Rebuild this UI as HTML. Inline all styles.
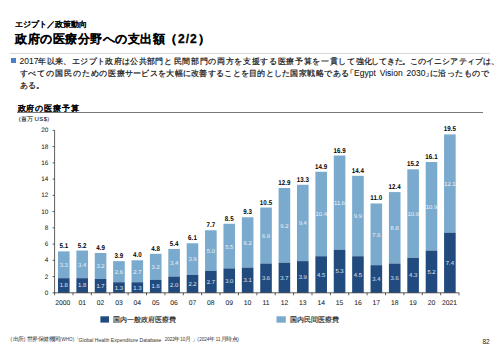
<!DOCTYPE html>
<html><head><meta charset="utf-8"><style>
html,body{margin:0;padding:0;background:#fff;}
body{width:500px;height:353px;position:relative;overflow:hidden;font-family:"Liberation Sans",sans-serif;color:#000;}
.a{position:absolute;white-space:nowrap;line-height:1;}
svg text{font-family:"Liberation Sans",sans-serif;text-anchor:middle;text-rendering:geometricPrecision;}
.vd{font-size:5.9px;fill:#e4eaf2;}
.vl{font-size:5.9px;fill:#f2f6fa;}
.vt{font-size:7px;font-weight:bold;fill:#000;letter-spacing:0.1px;}
.xl{font-size:6.8px;fill:#111;}
.yl{font-size:6.4px;fill:#111;text-anchor:end;}
.body{font-size:8.2px;letter-spacing:0.35px;line-height:11.9px;color:#111;-webkit-text-stroke:0.2px #111;}
.lat{font-size:8.5px;letter-spacing:0;-webkit-text-stroke:0.05px #111;}
</style></head><body>
<div class="a" style="left:15px;top:20.5px;font-size:8px;letter-spacing:0;-webkit-text-stroke:0.45px #000;">エジプト／政策動向</div>
<div class="a" style="left:15px;top:33px;font-size:12px;letter-spacing:0.5px;"><span style="-webkit-text-stroke:0.75px #000">政府の医療分野への支出額</span><b style="letter-spacing:1px;-webkit-text-stroke:0.3px #000">（2/2）</b></div>
<div class="a" style="left:10px;top:52.6px;width:479.5px;height:1px;background:#d9d9d9;"></div>
<div class="a" style="left:10.9px;top:58px;width:5px;height:5px;background:#4a7fcb;"></div>
<div class="a body" style="left:19.5px;top:55.8px;"><span class="lat">2017</span>年以来、エジプト政府は公共部門と<span style="margin-left:1.5px;letter-spacing:0.68px">民間部門の両方を支援する医療予算を一貫して</span><span style="letter-spacing:-0.25px">強化してきた。</span><span style="letter-spacing:0.08px">このイニシアティブは、</span><br><span style="letter-spacing:0.48px"><span style="letter-spacing:0.88px">すべての国民のための</span><span style="letter-spacing:0.28px">医療サービスを大幅に改善することを目的とした</span>国家戦略である<span style="letter-spacing:0;margin-left:-3.8px">「</span><span class="lat" style="word-spacing:1.5px">Egypt Vision 2030</span><span style="letter-spacing:-3.5px">」</span>に沿ったもので</span><br>ある。</div>
<div class="a" style="left:17.6px;top:104.3px;font-size:8.4px;letter-spacing:0.85px;-webkit-text-stroke:0.45px #000;">政府の医療予算</div>
<div class="a" style="left:17px;top:111.8px;width:466px;height:1.4px;background:#777;"></div>
<div class="a" style="left:18.8px;top:116.3px;font-size:6px;color:#222;-webkit-text-stroke:0.1px #222;">(百万</div>
<div class="a" style="left:34.6px;top:116.3px;font-size:6px;letter-spacing:0.35px;color:#222;-webkit-text-stroke:0.1px #222;">US$</div>
<div class="a" style="left:47.3px;top:116.3px;font-size:6px;color:#222;">)</div>
<svg class="a" style="left:0;top:0" width="500" height="353" viewBox="0 0 500 353">
<rect x="57.99" y="251.38" width="11.6" height="26.80" fill="#7aaacd"/>
<rect x="57.99" y="278.18" width="11.6" height="14.62" fill="#214a7f"/>
<text x="63.79" y="287.49" class="vd">1.8</text>
<text x="63.79" y="267.18" class="vl">3.3</text>
<text transform="translate(63.79,248.38) scale(0.88,1)" class="vt">5.1</text>
<text x="62.79" y="304.80" class="xl">2000</text>
<rect x="76.38" y="250.57" width="11.6" height="27.61" fill="#7aaacd"/>
<rect x="76.38" y="278.18" width="11.6" height="14.62" fill="#214a7f"/>
<text x="82.18" y="287.49" class="vd">1.8</text>
<text x="82.18" y="266.77" class="vl">3.4</text>
<text transform="translate(82.18,247.57) scale(0.88,1)" class="vt">5.2</text>
<text x="82.18" y="304.80" class="xl">01</text>
<rect x="94.76" y="253.00" width="11.6" height="25.99" fill="#7aaacd"/>
<rect x="94.76" y="278.99" width="11.6" height="13.81" fill="#214a7f"/>
<text x="100.56" y="287.90" class="vd">1.7</text>
<text x="100.56" y="268.40" class="vl">3.2</text>
<text transform="translate(100.56,250.00) scale(0.88,1)" class="vt">4.9</text>
<text x="100.56" y="304.80" class="xl">02</text>
<rect x="113.15" y="261.12" width="11.6" height="21.12" fill="#7aaacd"/>
<rect x="113.15" y="282.24" width="11.6" height="10.56" fill="#214a7f"/>
<text x="118.95" y="289.52" class="vd">1.3</text>
<text x="118.95" y="274.08" class="vl">2.6</text>
<text transform="translate(118.95,258.12) scale(0.88,1)" class="vt">3.9</text>
<text x="118.95" y="304.80" class="xl">03</text>
<rect x="131.53" y="260.31" width="11.6" height="21.93" fill="#7aaacd"/>
<rect x="131.53" y="282.24" width="11.6" height="10.56" fill="#214a7f"/>
<text x="137.33" y="289.52" class="vd">1.3</text>
<text x="137.33" y="273.68" class="vl">2.7</text>
<text transform="translate(137.33,257.31) scale(0.88,1)" class="vt">4.0</text>
<text x="137.33" y="304.80" class="xl">04</text>
<rect x="149.92" y="253.81" width="11.6" height="25.99" fill="#7aaacd"/>
<rect x="149.92" y="279.80" width="11.6" height="13.00" fill="#214a7f"/>
<text x="155.72" y="288.30" class="vd">1.6</text>
<text x="155.72" y="269.21" class="vl">3.2</text>
<text transform="translate(155.72,250.81) scale(0.88,1)" class="vt">4.8</text>
<text x="155.72" y="304.80" class="xl">05</text>
<rect x="168.30" y="248.94" width="11.6" height="27.61" fill="#7aaacd"/>
<rect x="168.30" y="276.56" width="11.6" height="16.24" fill="#214a7f"/>
<text x="174.10" y="286.68" class="vd">2.0</text>
<text x="174.10" y="265.15" class="vl">3.4</text>
<text transform="translate(174.10,245.94) scale(0.88,1)" class="vt">5.4</text>
<text x="174.10" y="304.80" class="xl">06</text>
<rect x="186.69" y="243.26" width="11.6" height="31.68" fill="#7aaacd"/>
<rect x="186.69" y="274.93" width="11.6" height="17.87" fill="#214a7f"/>
<text x="192.49" y="285.87" class="vd">2.2</text>
<text x="192.49" y="261.49" class="vl">3.9</text>
<text transform="translate(192.49,240.26) scale(0.88,1)" class="vt">6.1</text>
<text x="192.49" y="304.80" class="xl">07</text>
<rect x="205.07" y="230.26" width="11.6" height="40.61" fill="#7aaacd"/>
<rect x="205.07" y="270.87" width="11.6" height="21.93" fill="#214a7f"/>
<text x="210.87" y="283.84" class="vd">2.7</text>
<text x="210.87" y="252.97" class="vl">5.0</text>
<text transform="translate(210.87,227.26) scale(0.88,1)" class="vt">7.7</text>
<text x="210.87" y="304.80" class="xl">08</text>
<rect x="223.46" y="223.76" width="11.6" height="44.67" fill="#7aaacd"/>
<rect x="223.46" y="268.43" width="11.6" height="24.37" fill="#214a7f"/>
<text x="229.26" y="282.62" class="vd">3.0</text>
<text x="229.26" y="248.50" class="vl">5.5</text>
<text transform="translate(229.26,220.76) scale(0.88,1)" class="vt">8.5</text>
<text x="229.26" y="304.80" class="xl">09</text>
<rect x="241.84" y="217.27" width="11.6" height="50.36" fill="#7aaacd"/>
<rect x="241.84" y="267.62" width="11.6" height="25.18" fill="#214a7f"/>
<text x="247.64" y="282.21" class="vd">3.1</text>
<text x="247.64" y="244.84" class="vl">6.2</text>
<text transform="translate(247.64,214.27) scale(0.88,1)" class="vt">9.3</text>
<text x="247.64" y="304.80" class="xl">10</text>
<rect x="260.23" y="207.52" width="11.6" height="56.04" fill="#7aaacd"/>
<rect x="260.23" y="263.56" width="11.6" height="29.24" fill="#214a7f"/>
<text x="266.03" y="280.18" class="vd">3.6</text>
<text x="266.03" y="237.94" class="vl">6.9</text>
<text transform="translate(266.03,204.52) scale(0.88,1)" class="vt">10.5</text>
<text x="266.03" y="304.80" class="xl">11</text>
<rect x="278.61" y="188.03" width="11.6" height="74.72" fill="#7aaacd"/>
<rect x="278.61" y="262.75" width="11.6" height="30.05" fill="#214a7f"/>
<text x="284.41" y="279.77" class="vd">3.7</text>
<text x="284.41" y="227.79" class="vl">9.2</text>
<text transform="translate(284.41,185.03) scale(0.88,1)" class="vt">12.9</text>
<text x="284.41" y="304.80" class="xl">12</text>
<rect x="297.00" y="184.78" width="11.6" height="76.35" fill="#7aaacd"/>
<rect x="297.00" y="261.12" width="11.6" height="31.68" fill="#214a7f"/>
<text x="302.80" y="278.96" class="vd">3.9</text>
<text x="302.80" y="225.35" class="vl">9.4</text>
<text transform="translate(302.80,181.78) scale(0.88,1)" class="vt">13.3</text>
<text x="302.80" y="304.80" class="xl">13</text>
<rect x="315.38" y="171.78" width="11.6" height="84.47" fill="#7aaacd"/>
<rect x="315.38" y="256.25" width="11.6" height="36.55" fill="#214a7f"/>
<text x="321.18" y="276.53" class="vd">4.5</text>
<text x="321.18" y="216.42" class="vl">10.4</text>
<text transform="translate(321.18,168.78) scale(0.88,1)" class="vt">14.9</text>
<text x="321.18" y="304.80" class="xl">14</text>
<rect x="333.77" y="155.54" width="11.6" height="94.22" fill="#7aaacd"/>
<rect x="333.77" y="249.75" width="11.6" height="43.05" fill="#214a7f"/>
<text x="339.57" y="273.28" class="vd">5.3</text>
<text x="339.57" y="205.05" class="vl">11.6</text>
<text transform="translate(339.57,152.54) scale(0.88,1)" class="vt">16.9</text>
<text x="339.57" y="304.80" class="xl">15</text>
<rect x="352.15" y="175.84" width="11.6" height="80.41" fill="#7aaacd"/>
<rect x="352.15" y="256.25" width="11.6" height="36.55" fill="#214a7f"/>
<text x="357.95" y="276.53" class="vd">4.5</text>
<text x="357.95" y="218.45" class="vl">9.9</text>
<text transform="translate(357.95,172.84) scale(0.88,1)" class="vt">14.4</text>
<text x="357.95" y="304.80" class="xl">16</text>
<rect x="370.54" y="203.46" width="11.6" height="61.73" fill="#7aaacd"/>
<rect x="370.54" y="265.19" width="11.6" height="27.61" fill="#214a7f"/>
<text x="376.34" y="280.99" class="vd">3.4</text>
<text x="376.34" y="236.72" class="vl">7.6</text>
<text transform="translate(376.34,200.46) scale(0.88,1)" class="vt">11.0</text>
<text x="376.34" y="304.80" class="xl">17</text>
<rect x="388.92" y="192.09" width="11.6" height="71.47" fill="#7aaacd"/>
<rect x="388.92" y="263.56" width="11.6" height="29.24" fill="#214a7f"/>
<text x="394.72" y="280.18" class="vd">3.6</text>
<text x="394.72" y="230.22" class="vl">8.8</text>
<text transform="translate(394.72,189.09) scale(0.88,1)" class="vt">12.4</text>
<text x="394.72" y="304.80" class="xl">18</text>
<rect x="407.31" y="169.35" width="11.6" height="88.53" fill="#7aaacd"/>
<rect x="407.31" y="257.88" width="11.6" height="34.92" fill="#214a7f"/>
<text x="413.11" y="277.34" class="vd">4.3</text>
<text x="413.11" y="216.01" class="vl">10.9</text>
<text transform="translate(413.11,166.35) scale(0.88,1)" class="vt">15.2</text>
<text x="413.11" y="304.80" class="xl">19</text>
<rect x="425.69" y="162.04" width="11.6" height="88.53" fill="#7aaacd"/>
<rect x="425.69" y="250.57" width="11.6" height="42.23" fill="#214a7f"/>
<text x="431.49" y="273.68" class="vd">5.2</text>
<text x="431.49" y="208.70" class="vl">10.9</text>
<text transform="translate(431.49,159.04) scale(0.88,1)" class="vt">16.1</text>
<text x="431.49" y="304.80" class="xl">20</text>
<rect x="444.08" y="134.42" width="11.6" height="98.28" fill="#7aaacd"/>
<rect x="444.08" y="232.70" width="11.6" height="60.10" fill="#214a7f"/>
<text x="449.88" y="264.75" class="vd">7.4</text>
<text x="449.88" y="185.96" class="vl">12.1</text>
<text transform="translate(449.88,131.42) scale(0.88,1)" class="vt">19.5</text>
<text x="449.58" y="304.80" class="xl">2021</text>
<line x1="54.6" y1="130.36" x2="54.6" y2="292.8" stroke="#333" stroke-width="0.8"/>
<line x1="54.2" y1="292.8" x2="459.07" y2="292.8" stroke="#333" stroke-width="0.8"/>
<line x1="52.6" y1="292.80" x2="54.6" y2="292.80" stroke="#333" stroke-width="0.8"/>
<text x="48.4" y="294.90" class="yl">0</text>
<line x1="52.6" y1="276.56" x2="54.6" y2="276.56" stroke="#333" stroke-width="0.8"/>
<text x="48.4" y="278.66" class="yl">2</text>
<line x1="52.6" y1="260.31" x2="54.6" y2="260.31" stroke="#333" stroke-width="0.8"/>
<text x="48.4" y="262.41" class="yl">4</text>
<line x1="52.6" y1="244.07" x2="54.6" y2="244.07" stroke="#333" stroke-width="0.8"/>
<text x="48.4" y="246.17" class="yl">6</text>
<line x1="52.6" y1="227.82" x2="54.6" y2="227.82" stroke="#333" stroke-width="0.8"/>
<text x="48.4" y="229.92" class="yl">8</text>
<line x1="52.6" y1="211.58" x2="54.6" y2="211.58" stroke="#333" stroke-width="0.8"/>
<text x="48.4" y="213.68" class="yl">10</text>
<line x1="52.6" y1="195.34" x2="54.6" y2="195.34" stroke="#333" stroke-width="0.8"/>
<text x="48.4" y="197.44" class="yl">12</text>
<line x1="52.6" y1="179.09" x2="54.6" y2="179.09" stroke="#333" stroke-width="0.8"/>
<text x="48.4" y="181.19" class="yl">14</text>
<line x1="52.6" y1="162.85" x2="54.6" y2="162.85" stroke="#333" stroke-width="0.8"/>
<text x="48.4" y="164.95" class="yl">16</text>
<line x1="52.6" y1="146.60" x2="54.6" y2="146.60" stroke="#333" stroke-width="0.8"/>
<text x="48.4" y="148.70" class="yl">18</text>
<line x1="52.6" y1="130.36" x2="54.6" y2="130.36" stroke="#333" stroke-width="0.8"/>
<text x="48.4" y="132.46" class="yl">20</text>
<line x1="54.60" y1="292.8" x2="54.60" y2="295.3" stroke="#333" stroke-width="0.8"/>
<line x1="72.98" y1="292.8" x2="72.98" y2="295.3" stroke="#333" stroke-width="0.8"/>
<line x1="91.37" y1="292.8" x2="91.37" y2="295.3" stroke="#333" stroke-width="0.8"/>
<line x1="109.75" y1="292.8" x2="109.75" y2="295.3" stroke="#333" stroke-width="0.8"/>
<line x1="128.14" y1="292.8" x2="128.14" y2="295.3" stroke="#333" stroke-width="0.8"/>
<line x1="146.53" y1="292.8" x2="146.53" y2="295.3" stroke="#333" stroke-width="0.8"/>
<line x1="164.91" y1="292.8" x2="164.91" y2="295.3" stroke="#333" stroke-width="0.8"/>
<line x1="183.30" y1="292.8" x2="183.30" y2="295.3" stroke="#333" stroke-width="0.8"/>
<line x1="201.68" y1="292.8" x2="201.68" y2="295.3" stroke="#333" stroke-width="0.8"/>
<line x1="220.06" y1="292.8" x2="220.06" y2="295.3" stroke="#333" stroke-width="0.8"/>
<line x1="238.45" y1="292.8" x2="238.45" y2="295.3" stroke="#333" stroke-width="0.8"/>
<line x1="256.84" y1="292.8" x2="256.84" y2="295.3" stroke="#333" stroke-width="0.8"/>
<line x1="275.22" y1="292.8" x2="275.22" y2="295.3" stroke="#333" stroke-width="0.8"/>
<line x1="293.61" y1="292.8" x2="293.61" y2="295.3" stroke="#333" stroke-width="0.8"/>
<line x1="311.99" y1="292.8" x2="311.99" y2="295.3" stroke="#333" stroke-width="0.8"/>
<line x1="330.38" y1="292.8" x2="330.38" y2="295.3" stroke="#333" stroke-width="0.8"/>
<line x1="348.76" y1="292.8" x2="348.76" y2="295.3" stroke="#333" stroke-width="0.8"/>
<line x1="367.15" y1="292.8" x2="367.15" y2="295.3" stroke="#333" stroke-width="0.8"/>
<line x1="385.53" y1="292.8" x2="385.53" y2="295.3" stroke="#333" stroke-width="0.8"/>
<line x1="403.92" y1="292.8" x2="403.92" y2="295.3" stroke="#333" stroke-width="0.8"/>
<line x1="422.30" y1="292.8" x2="422.30" y2="295.3" stroke="#333" stroke-width="0.8"/>
<line x1="440.69" y1="292.8" x2="440.69" y2="295.3" stroke="#333" stroke-width="0.8"/>
<line x1="459.07" y1="292.8" x2="459.07" y2="295.3" stroke="#333" stroke-width="0.8"/>
<rect x="100.4" y="316.3" width="8.6" height="6.3" fill="#214a7f"/>
<rect x="276.5" y="316.3" width="9.3" height="6.4" fill="#7aaacd"/>
</svg>
<div class="a" style="left:112.6px;top:316.7px;font-size:6.6px;letter-spacing:0.08px;color:#222;-webkit-text-stroke:0.15px #222;">国内一般政府医療費</div>
<div class="a" style="left:289.8px;top:316.7px;font-size:6.6px;letter-spacing:0.08px;color:#222;-webkit-text-stroke:0.15px #222;">国内民間医療費</div>
<div class="a" style="left:10.5px;top:337.8px;font-size:4.8px;letter-spacing:0px;color:#333;">(</div>
<div class="a" style="left:12.6px;top:337.40000000000003px;font-size:5.5px;letter-spacing:-0.5px;color:#333;">出所</div>
<div class="a" style="left:23.8px;top:337.8px;font-size:4.8px;letter-spacing:0px;color:#333;">)</div>
<div class="a" style="left:26.6px;top:337.40000000000003px;font-size:5.5px;letter-spacing:-0.5px;color:#333;">世界保健機関</div>
<div class="a" style="left:59.8px;top:337.8px;font-size:4.5px;letter-spacing:0.1px;color:#333;">(WHO)</div>
<div class="a" style="left:73.8px;top:337.40000000000003px;font-size:5.5px;letter-spacing:0px;color:#333;">「</div>
<div class="a" style="left:78.6px;top:337.8px;font-size:5.1px;letter-spacing:0px;color:#333;">Global Health Expenditure Database</div>
<div class="a" style="left:164.8px;top:337.8px;font-size:4.5px;letter-spacing:0px;color:#333;">2022</div>
<div class="a" style="left:174.3px;top:337.40000000000003px;font-size:5.5px;letter-spacing:0px;color:#333;">年</div>
<div class="a" style="left:180.3px;top:337.8px;font-size:4.5px;letter-spacing:0px;color:#333;">10</div>
<div class="a" style="left:185px;top:337.40000000000003px;font-size:5.5px;letter-spacing:0px;color:#333;">月</div>
<div class="a" style="left:191.5px;top:337.40000000000003px;font-size:5.5px;letter-spacing:0px;color:#333;">」</div>
<div class="a" style="left:197.2px;top:337.8px;font-size:4.8px;letter-spacing:0px;color:#333;">(</div>
<div class="a" style="left:199.3px;top:337.8px;font-size:4.5px;letter-spacing:0px;color:#333;">2024</div>
<div class="a" style="left:209.3px;top:337.40000000000003px;font-size:5.5px;letter-spacing:0px;color:#333;">年</div>
<div class="a" style="left:215.8px;top:337.8px;font-size:4.5px;letter-spacing:0px;color:#333;">11</div>
<div class="a" style="left:220.7px;top:337.40000000000003px;font-size:5.5px;letter-spacing:-0.5px;color:#333;">月時点</div>
<div class="a" style="left:237.3px;top:337.8px;font-size:4.8px;letter-spacing:0px;color:#333;">)</div>
<div class="a" style="left:482.5px;top:338.8px;font-size:6.5px;color:#222;">82</div>
</body></html>
